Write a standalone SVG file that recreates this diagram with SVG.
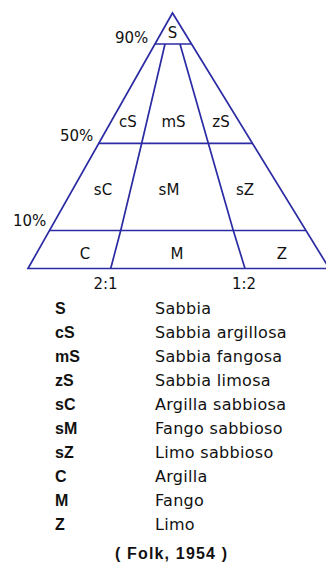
<svg xmlns="http://www.w3.org/2000/svg" width="326" height="567" viewBox="0 0 326 567">
<style>
.ln{fill:none;stroke:#2b2ba3;stroke-width:1.7;stroke-linejoin:miter}
.lb{font-family:"DejaVu Sans",sans-serif;font-size:15px;fill:#111}
.c{text-anchor:middle}
.k{font-family:"Liberation Sans",Arial,sans-serif;font-size:16px;font-weight:bold;fill:#111}
.d{font-family:"DejaVu Sans",sans-serif;font-size:16px;fill:#111;letter-spacing:0.3px}
</style>
<rect width="326" height="567" fill="#fff"/>
<g id="connectors">
<path class="ln" d="M172.5,13 L28,268.5 L329.3,268.5 Z"/>
<line class="ln" x1="155" y1="44" x2="191.5" y2="44"/>
<line class="ln" x1="98.8" y1="143.3" x2="252.5" y2="143.3"/>
<line class="ln" x1="49.5" y1="230.5" x2="306" y2="230.5"/>
<polyline class="ln" points="165,44 141.7,143.3 120.7,230.5 110.7,268.5"/>
<polyline class="ln" points="180,44 208.3,143.3 233.3,230.5 245,268.5"/>
</g>
<g id="axis-labels" class="lb">
<text x="115" y="43">90%</text>
<text x="60" y="141">50%</text>
<text x="13" y="226">10%</text>
<text class="c" x="105.5" y="289">2:1</text>
<text class="c" x="244" y="289">1:2</text>
</g>
<g id="node-S" class="lb"><text class="c" x="172.5" y="38">S</text></g>
<g id="node-cS" class="lb"><text class="c" x="128" y="127">cS</text></g>
<g id="node-mS" class="lb"><text class="c" x="173.5" y="127">mS</text></g>
<g id="node-zS" class="lb"><text class="c" x="221" y="127">zS</text></g>
<g id="node-sC" class="lb"><text class="c" x="103" y="195">sC</text></g>
<g id="node-sM" class="lb"><text class="c" x="169" y="195">sM</text></g>
<g id="node-sZ" class="lb"><text class="c" x="245" y="195">sZ</text></g>
<g id="node-C" class="lb"><text class="c" x="85" y="259">C</text></g>
<g id="node-M" class="lb"><text class="c" x="177" y="259">M</text></g>
<g id="node-Z" class="lb"><text class="c" x="282" y="259">Z</text></g>
<g id="legend">
<text class="k" x="55" y="314">S</text><text class="d" x="155" y="314">Sabbia</text>
<text class="k" x="55" y="338">cS</text><text class="d" x="155" y="338">Sabbia argillosa</text>
<text class="k" x="55" y="362">mS</text><text class="d" x="155" y="362">Sabbia fangosa</text>
<text class="k" x="55" y="386">zS</text><text class="d" x="155" y="386">Sabbia limosa</text>
<text class="k" x="55" y="410">sC</text><text class="d" x="155" y="410">Argilla sabbiosa</text>
<text class="k" x="55" y="434">sM</text><text class="d" x="155" y="434">Fango sabbioso</text>
<text class="k" x="55" y="458">sZ</text><text class="d" x="155" y="458">Limo sabbioso</text>
<text class="k" x="55" y="482">C</text><text class="d" x="155" y="482">Argilla</text>
<text class="k" x="55" y="506">M</text><text class="d" x="155" y="506">Fango</text>
<text class="k" x="55" y="530">Z</text><text class="d" x="155" y="530">Limo</text>
<text class="k" x="115" y="559" font-size="17" textLength="112" lengthAdjust="spacing">( Folk, 1954 )</text>
</g>
</svg>
